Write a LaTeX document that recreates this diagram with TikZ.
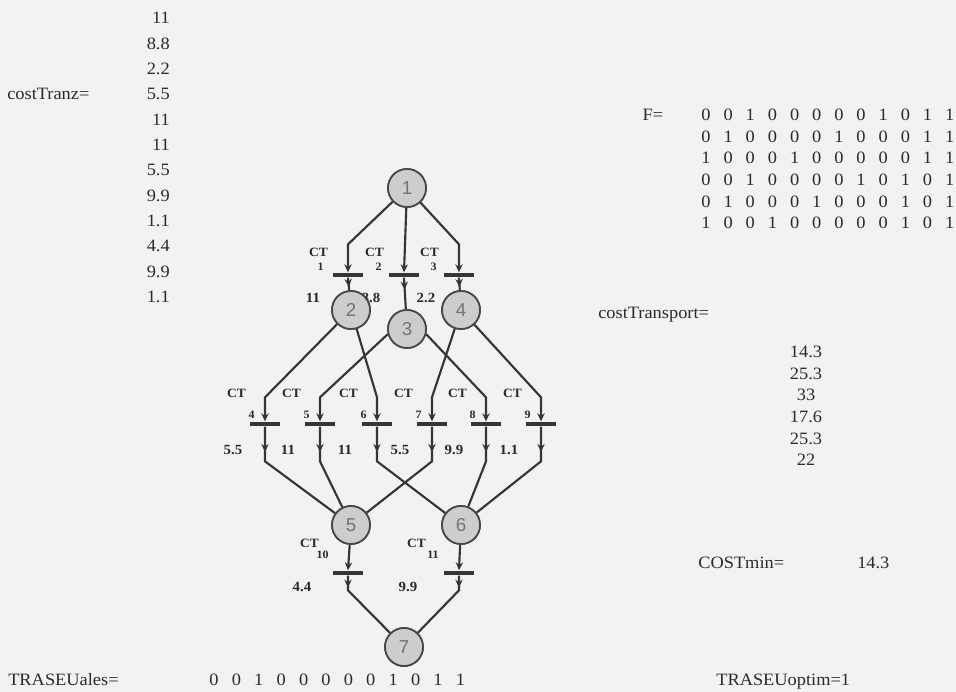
\documentclass[tikz,border=0pt]{standalone}
\usepackage{fontspec}
\setmainfont{Liberation Serif}[FakeStretch=1.06]
\newfontfamily\placefont{Liberation Sans}
\usetikzlibrary{arrows.meta,decorations.markings}
\definecolor{bgc}{HTML}{F2F2F2}
\definecolor{ink}{HTML}{2A2A2A}
\definecolor{arcc}{HTML}{353535}
\definecolor{pfill}{HTML}{CDCDCD}
\definecolor{pline}{HTML}{474747}
\definecolor{pnum}{HTML}{737373}
\begin{document}
\begin{tikzpicture}[x=0.75pt,y=-0.75pt,
  place/.style={circle,draw=pline,fill=pfill,line width=1.3pt,minimum size=28.5pt,inner sep=0pt,
    font=\placefont\fontsize{14}{14}\selectfont,text=pnum},
  tbar/.style={rectangle,fill=arcc,minimum width=22.5pt,minimum height=3.6pt,inner sep=0pt},
  arcline/.style={color=arcc,line width=1.6pt},
  ptarc/.style={arcline,-{Stealth[length=6pt,width=5.5pt]}},
  tparc/.style={arcline,decoration={markings,mark=at position #1 with {\arrow{Stealth[length=6pt,width=5.5pt]}}},postaction={decorate}},
  txt/.style={text=ink,font=\fontsize{13}{15}\selectfont,inner sep=0pt},
  ctlbl/.style={text=ink,font=\bfseries\fontsize{9.5}{9.5}\selectfont,inner sep=0pt,anchor=east},
  sublbl/.style={text=ink,font=\bfseries\fontsize{8.5}{8.5}\selectfont,inner sep=0pt,anchor=east},
  costlbl/.style={text=ink,font=\bfseries\fontsize{10.5}{10.5}\selectfont,inner sep=0pt},
]
\fill[bgc] (0,0) rectangle (956,692);
\useasboundingbox (0,0) rectangle (956,692);

% ---------- left column: costTranz ----------
\node[txt,anchor=base west] (ctz) at (7,99) {costTranz=};
\foreach \v [count=\i] in {11,8.8,2.2,5.5,11,11,5.5,9.9,1.1,4.4,9.9,1.1}{
  \node[txt,anchor=base east] (ctz-\i) at (170,{24+25.3*(\i-1)}) {\v};
}

% ---------- F matrix ----------
\node[txt] (Flbl) at (653,115) {F=};
\foreach \row [count=\r] in {{0,0,1,0,0,0,0,0,1,0,1,1},{0,1,0,0,0,0,1,0,0,0,1,1},{1,0,0,0,1,0,0,0,0,0,1,1},{0,0,1,0,0,0,0,1,0,1,0,1},{0,1,0,0,0,1,0,0,0,1,0,1},{1,0,0,1,0,0,0,0,0,1,0,1}}{
  \foreach \v [count=\c] in \row {
    \node[txt] (F-\r-\c) at ({706+22.15*(\c-1)},{115+21.6*(\r-1)}) {\v};
  }
}

% ---------- costTransport ----------
\node[txt,anchor=base west] (ctp) at (598,318) {costTransport=};
\foreach \v [count=\i] in {14.3,25.3,33,17.6,25.3,22}{
  \node[txt] (ctp-\i) at (806,{352+21.6*(\i-1)}) {\v};
}

% ---------- COSTmin / TRASEU ----------
\node[txt,anchor=base west] (cmin) at (698,568) {COSTmin=};
\node[txt,anchor=base west] (cminv) at (857,568) {14.3};
\node[txt,anchor=base west] (topt) at (716,685) {TRASEUoptim=1};
\node[txt,anchor=base west] (tal) at (8,685) {TRASEUales=};
\foreach \v [count=\c] in {0,0,1,0,0,0,0,0,1,0,1,1}{
  \node[txt] (tal-\c) at ({214+22.4*(\c-1)},680) {\v};
}

% ---------- transitions ----------
\node[tbar] (T1) at (348,275) {};
\node[tbar] (T2) at (404,275) {};
\node[tbar] (T3) at (459,275) {};
\node[tbar] (T4) at (265,424) {};
\node[tbar] (T5) at (320,424) {};
\node[tbar] (T6) at (377,424) {};
\node[tbar] (T7) at (432,424) {};
\node[tbar] (T8) at (486,424) {};
\node[tbar] (T9) at (541,424) {};
\node[tbar] (T10) at (348,573) {};
\node[tbar] (T11) at (459,573) {};

% ---------- transition labels ----------
\node[ctlbl] (c1) at (328,252) {CT};  \node[sublbl] (s1) at (324,267) {1};
\node[ctlbl] (c2) at (384,252) {CT};  \node[sublbl] (s2) at (382,267) {2};
\node[ctlbl] (c3) at (439,252) {CT};  \node[sublbl] (s3) at (437,267) {3};
\node[costlbl] (k1) at (313,298) {11};
\node[costlbl] (k2) at (371,298) {8.8};
\node[costlbl] (k3) at (426,298) {2.2};
\foreach \n/\x/\k in {4/265/5.5,5/320/11,6/377/11,7/432/5.5,8/486/9.9,9/541/1.1}{
  \node[ctlbl] (c\n) at ({\x-19},393) {CT};
  \node[sublbl] (s\n) at ({\x-10},415) {\n};
  \node[costlbl] (k\n) at ({\x-32},450) {\k};
}
\node[ctlbl] (c10) at (319,543) {CT}; \node[sublbl] (s10) at (329,555) {10};
\node[ctlbl] (c11) at (426,543) {CT}; \node[sublbl] (s11) at (439,555) {11};
\node[costlbl] (k10) at (302,587) {4.4};
\node[costlbl] (k11) at (408,587) {9.9};

% ---------- places ----------
\node[place] (P1) at (407,188) {1};
\node[place] (P2) at (351,310) {2};
\node[place] (P3) at (407,329) {3};
\node[place] (P4) at (461,310) {4};
\node[place] (P5) at (351,525) {5};
\node[place] (P6) at (461,525) {6};
\node[place] (P7) at (404,647) {7};

% ---------- arcs: top layer ----------
\draw[ptarc] (P1) -- ([yshift=21pt]T1.north) -- (T1.north);
\draw[ptarc] (P1) -- (T2.north);
\draw[ptarc] (P1) -- ([yshift=21pt]T3.north) -- (T3.north);
\draw[tparc=7pt] (T1.south) -- (P2);
\draw[tparc=9pt] (T2.south) -- (P3);
\draw[tparc=7pt] (T3.south) -- (P4);

% ---------- arcs: middle layer ----------
\draw[ptarc] (P2) -- ([yshift=18pt]T4.north) -- (T4.north);
\draw[ptarc] (P2) -- ([yshift=18pt]T6.north) -- (T6.north);
\draw[ptarc] (P3.195) -- ([yshift=18pt]T5.north) -- (T5.north);
\draw[ptarc] (P3.-15) -- ([yshift=18pt]T8.north) -- (T8.north);
\draw[ptarc] (P4) -- ([yshift=18pt]T7.north) -- (T7.north);
\draw[ptarc] (P4) -- ([yshift=18pt]T9.north) -- (T9.north);

\draw[tparc=19pt] (T4.south) -- ([yshift=-26pt]T4.south) -- (P5);
\draw[tparc=19pt] (T5.south) -- ([yshift=-26pt]T5.south) -- (P5);
\draw[tparc=19pt] (T7.south) -- ([yshift=-26pt]T7.south) -- (P5);
\draw[tparc=19pt] (T6.south) -- ([yshift=-26pt]T6.south) -- (P6);
\draw[tparc=19pt] (T8.south) -- ([yshift=-26pt]T8.south) -- (P6);
\draw[tparc=19pt] (T9.south) -- ([yshift=-26pt]T9.south) -- (P6);

% ---------- arcs: bottom layer ----------
\draw[ptarc] (P5) -- (T10.north);
\draw[ptarc] (P6) -- (T11.north);
\draw[tparc=9pt] (T10.south) -- ([yshift=-11pt]T10.south) -- (P7);
\draw[tparc=9pt] (T11.south) -- ([yshift=-11pt]T11.south) -- (P7);

% redraw places on top of arcs
\node[place] at (P1) {1};
\node[place] at (P2) {2};
\node[place] at (P3) {3};
\node[place] at (P4) {4};
\node[place] at (P5) {5};
\node[place] at (P6) {6};
\node[place] at (P7) {7};
\end{tikzpicture}
\end{document}
